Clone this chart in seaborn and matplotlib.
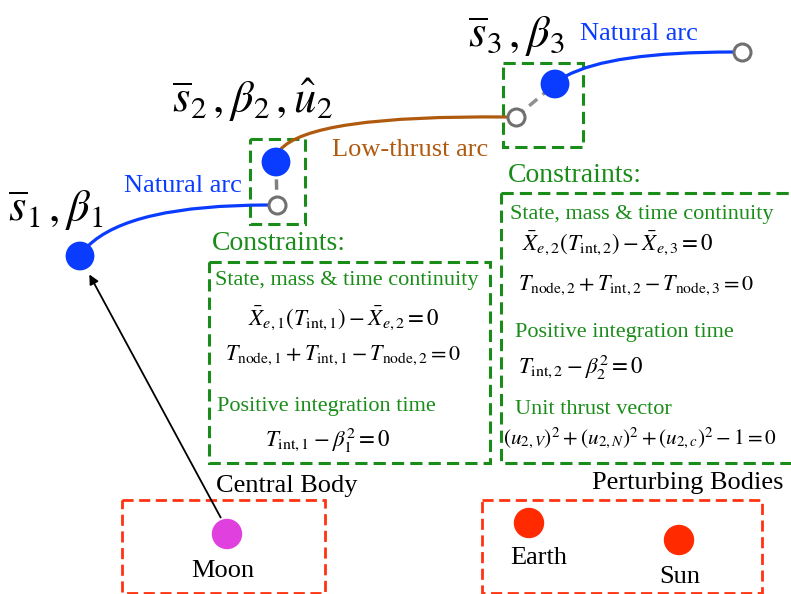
import matplotlib
matplotlib.use("Agg")
import matplotlib.pyplot as plt
from matplotlib.path import Path
from matplotlib.patches import PathPatch, Rectangle, Ellipse, FancyArrowPatch
import seaborn as sns
import pandas as pd

sns.set_theme(style="white")
plt.rcParams['font.family'] = ['Liberation Serif', 'DejaVu Serif']
plt.rcParams['mathtext.fontset'] = 'stix'
plt.rcParams['text.color'] = 'black'

# ---- data (pixel-space layout of the diagram) ----
filled_x = [80, 276, 555]
filled_y = [256, 162, 84]
open_x = [277, 516, 742]
open_y = [205, 117, 52]
node_labels = [r"$\overline{s}_1\,,\beta_1$", r"$\overline{s}_2\,,\beta_2\,,\hat{u}_2$", r"$\overline{s}_3\,,\beta_3$"]
label_x = [8, 172, 468]
label_y = [210, 100, 36]

arc_start_x = [88, 280, 566]
arc_start_y = [246, 150, 76]
arc_ctrl_x = [130, 310, 610]
arc_ctrl_y = [205, 115, 52]
arc_end_x = [268, 507, 733]
arc_end_y = [205, 117, 52]
arc_colors = ["#0a3cff", "#b05a10", "#0a3cff"]

arc_text = ["Natural arc", "Low-thrust arc", "Natural arc"]
arc_text_x = [124, 332, 580]
arc_text_y = [186, 150, 34]

box_green = [(250, 139, 55, 85), (503, 63, 80, 84), (209, 262, 281, 201), (501, 193, 300, 270)]
box_red = [(122, 500, 203, 93), (482, 500, 280, 93)]

bodies = ["Moon", "Earth", "Sun"]
body_x = [227, 529, 679]
body_y = [534, 523, 540]
body_colors = ["#e040dd", "#ff2a00", "#ff2a00"]
body_label_x = [223, 539, 680]
body_label_y = [571, 558, 577]

GREEN = "#1a8c1a"
RED = "#ff3311"
TXT = 19
SUB = 16
EQ = 16.5

fig = plt.figure(figsize=(7.91, 5.94), dpi=100)
ax = fig.add_axes([0, 0, 1, 1])
ax.set_xlim(0, 791)
ax.set_ylim(594, 0)
ax.axis("off")

# arcs
for i in range(3):
    p = Path([(arc_start_x[i], arc_start_y[i]), (arc_ctrl_x[i], arc_ctrl_y[i]), (arc_end_x[i], arc_end_y[i])],
             [Path.MOVETO, Path.CURVE3, Path.CURVE3])
    ax.add_patch(PathPatch(p, fc="none", ec=arc_colors[i], lw=2.3, zorder=2))

# grey dashed links
ax.plot([filled_x[1], open_x[0]], [filled_y[1], open_y[0]], color="#808080", lw=2.5, ls=(0, (3, 2)), zorder=1)
ax.plot([open_x[1], filled_x[2]], [open_y[1], filled_y[2]], color="#909090", lw=2.5, ls=(0, (3, 2)), zorder=1)

# boxes
for (x, y, w, h) in box_green:
    ax.add_patch(Rectangle((x, y), w, h, fill=False, ec=GREEN, lw=2.2, ls=(0, (4, 2)), zorder=1))
for (x, y, w, h) in box_red:
    ax.add_patch(Rectangle((x, y), w, h, fill=False, ec=RED, lw=2.0, ls=(0, (4, 2)), zorder=1))

# nodes
df_f = pd.DataFrame({"x": filled_x, "y": filled_y})
df_o = pd.DataFrame({"x": open_x, "y": open_y})
sns.scatterplot(data=df_f, x="x", y="y", ax=ax, s=430, color="#0a3cff", edgecolor="none", zorder=4, legend=False)
sns.scatterplot(data=df_o, x="x", y="y", ax=ax, s=150, facecolor="white", edgecolor="#707070", linewidth=2.2, zorder=4, legend=False)
ax.set_xlim(0, 791)
ax.set_ylim(594, 0)
ax.set_xlabel("")
ax.set_ylabel("")

for i in range(3):
    ax.text(label_x[i], label_y[i], node_labels[i], fontsize=32, color="black", va="center", ha="left")
    ax.text(arc_text_x[i], arc_text_y[i], arc_text[i], fontsize=TXT, color=arc_colors[i], va="center", ha="left")

# constraints left
ax.text(212, 243, "Constraints:", fontsize=20, color=GREEN, va="center")
ax.text(215, 281, "State, mass & time continuity", fontsize=SUB, color=GREEN, va="center")
ax.text(344, 318, r"$\bar{X}_{e,1}(T_{\mathrm{int},1})-\bar{X}_{e,2}=0$", fontsize=EQ, color="black", va="center", ha="center")
ax.text(343, 355, r"$T_{\mathrm{node},1}+T_{\mathrm{int},1}-T_{\mathrm{node},2}=0$", fontsize=16, color="black", va="center", ha="center")
ax.text(217, 407, "Positive integration time", fontsize=SUB, color=GREEN, va="center")
ax.text(328, 440, r"$T_{\mathrm{int},1}-\beta_1^2=0$", fontsize=EQ, color="black", va="center", ha="center")

# constraints right
ax.text(508, 176, "Constraints:", fontsize=20, color=GREEN, va="center")
ax.text(510, 214, "State, mass & time continuity", fontsize=SUB, color=GREEN, va="center")
ax.text(522, 243, r"$\bar{X}_{e,2}(T_{\mathrm{int},2})-\bar{X}_{e,3}=0$", fontsize=EQ, color="black", va="center")
ax.text(518, 285, r"$T_{\mathrm{node},2}+T_{\mathrm{int},2}-T_{\mathrm{node},3}=0$", fontsize=16, color="black", va="center")
ax.text(515, 333, "Positive integration time", fontsize=SUB, color=GREEN, va="center")
ax.text(518, 367, r"$T_{\mathrm{int},2}-\beta_2^2=0$", fontsize=EQ, color="black", va="center")
ax.text(515, 409, "Unit thrust vector", fontsize=SUB, color=GREEN, va="center")
ax.text(503, 438, r"$(u_{2,V})^2+(u_{2,N})^2+(u_{2,c})^2-1=0$", fontsize=15.3, color="black", va="center")

# bodies
ax.text(216, 486, "Central Body", fontsize=TXT, color="black", va="center")
ax.text(592, 483, "Perturbing Bodies", fontsize=TXT, color="black", va="center")
for i in range(3):
    ax.add_patch(Ellipse((body_x[i], body_y[i]), 29, 29, color=body_colors[i], zorder=3))
    ax.text(body_label_x[i], body_label_y[i], bodies[i], fontsize=TXT, color="black", va="center", ha="center")

# arrow from Moon to node 1
ax.add_patch(FancyArrowPatch((body_x[0] - 5, body_y[0] - 14), (filled_x[0] + 8, filled_y[0] + 16),
                             arrowstyle="-|>", mutation_scale=14, color="black", lw=1.3, zorder=2))

fig.savefig("out.png", dpi=100)
